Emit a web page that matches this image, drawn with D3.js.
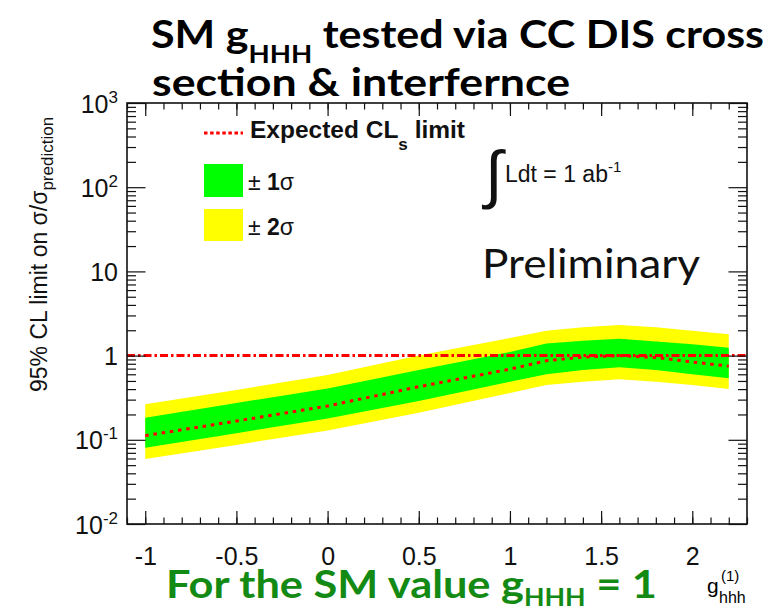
<!DOCTYPE html>
<html>
<head>
<meta charset="utf-8">
<script src="https://cdn.jsdelivr.net/npm/d3@7"></script>
<style>
body { margin: 0; background: #fff; }
svg { display: block; font-family: "Liberation Sans", Arial, sans-serif; }
.axis path.domain { display: none; }
.axis line { stroke: #111; stroke-width: 1.2; }
.axis text { font-size: 25px; fill: #111; font-family: "Liberation Sans", Arial, sans-serif; }
</style>
</head>
<body>
<div id="canvas"></div>
<script>
let gValues = [-1, -0.5, 0, 0.5, 1.0, 1.2, 1.4, 1.6, 1.8, 2.0, 2.2]
// expected limit (median) and the 1 / 2 sigma bands
let expected = [0.112, 0.167, 0.252, 0.427, 0.69, 0.87, 0.96, 1.0, 0.95, 0.84, 0.75]
let up1 = [0.183, 0.274, 0.406, 0.675, 1.10, 1.39, 1.50, 1.59, 1.47, 1.36, 1.24]
let lo1 = [0.0805, 0.120, 0.179, 0.289, 0.49, 0.60, 0.675, 0.726, 0.675, 0.60, 0.537]
let up2 = [0.264, 0.39, 0.589, 1.00, 1.62, 1.97, 2.17, 2.31, 2.17, 1.97, 1.79]
let lo2 = [0.059, 0.087, 0.129, 0.21, 0.36, 0.448, 0.49, 0.523, 0.49, 0.448, 0.40]
let smLine = 1

let xTickValues = [-1, -0.5, 0, 0.5, 1, 1.5, 2]
let yTickValues = [0.01, 0.1, 1, 10, 100, 1000]
let yTickBase = ['10', '10', '1', '10', '10', '10']
let yTickExp = ['-2', '-1', '', '', '2', '3']

let rows = gValues.map((g, i) => ({g: g, med: expected[i], u1: up1[i], l1: lo1[i], u2: up2[i], l2: lo2[i]}))

let svg = d3.select('#canvas').append('svg')
    .attr('width', 783)
    .attr('height', 608)

svg.append('rect').attr('width', 783).attr('height', 608).style('fill', '#fff')

let frameL = 127, frameR = 747, frameT = 103, frameB = 524

let xScale = d3.scaleLinear()
    .domain([-1.1, 2.3])
    .range([frameL, frameR])
let yScale = d3.scaleLog()
    .domain([0.01, 1000])
    .range([frameB, frameT])

// bands
let band = (lo, hi) => d3.area()
    .x(d => xScale(d.g))
    .y0(d => yScale(d[lo]))
    .y1(d => yScale(d[hi]))

svg.append('path').datum(rows)
    .attr('d', band('l2', 'u2'))
    .style('fill', '#ffff00')
svg.append('path').datum(rows)
    .attr('d', band('l1', 'u1'))
    .style('fill', '#00ff00')

// expected limit, dotted
svg.append('path').datum(rows)
    .attr('d', d3.line().x(d => xScale(d.g)).y(d => yScale(d.med)))
    .style('fill', 'none')
    .style('stroke', '#ff0000')
    .style('stroke-width', 3)
    .style('stroke-dasharray', '3.5,4.8')

// SM = 1 line, dash-dot
svg.append('line')
    .attr('x1', xScale(-1.1)).attr('x2', xScale(2.3))
    .attr('y1', yScale(smLine)).attr('y2', yScale(smLine))
    .style('stroke', '#ff0000')
    .style('stroke-width', 3)
    .style('stroke-dasharray', '8,3,2.5,3')

// minor tick positions
let xMinor = d3.range(-11, 24).map(i => i / 10)
let yMinor = []
for (let e = -2; e < 3; e++) {
    for (let m = 2; m < 10; m++) yMinor.push(m * Math.pow(10, e))
}

// x axes
svg.append('g').attr('class', 'axis')
    .attr('transform', `translate(0, ${frameB})`)
    .call(d3.axisBottom(xScale).tickValues(xTickValues).tickSize(-13).tickPadding(23)
        .tickFormat(d => String(d)))
svg.append('g').attr('class', 'axis')
    .attr('transform', `translate(0, ${frameB})`)
    .call(d3.axisBottom(xScale).tickValues(xMinor).tickSize(-6.5).tickFormat(''))
svg.append('g').attr('class', 'axis')
    .attr('transform', `translate(0, ${frameT})`)
    .call(d3.axisTop(xScale).tickValues(xTickValues).tickSize(-13).tickFormat(''))
svg.append('g').attr('class', 'axis')
    .attr('transform', `translate(0, ${frameT})`)
    .call(d3.axisTop(xScale).tickValues(xMinor).tickSize(-6.5).tickFormat(''))

// y axes
let yAxisG = svg.append('g').attr('class', 'axis')
    .attr('transform', `translate(${frameL}, 0)`)
    .call(d3.axisLeft(yScale).tickValues(yTickValues).tickSize(-18.5).tickPadding(9))
yAxisG.selectAll('text').each(function(d, i) {
    let t = d3.select(this).text(null).attr('dy', '0.36em')
    t.append('tspan').text(yTickBase[i])
    if (yTickExp[i]) t.append('tspan').attr('dy', -10).style('font-size', '17px').text(yTickExp[i])
})
svg.append('g').attr('class', 'axis')
    .attr('transform', `translate(${frameL}, 0)`)
    .call(d3.axisLeft(yScale).tickValues(yMinor).tickSize(-9).tickFormat(''))
svg.append('g').attr('class', 'axis')
    .attr('transform', `translate(${frameR}, 0)`)
    .call(d3.axisRight(yScale).tickValues(yTickValues).tickSize(-18.5).tickFormat(''))
svg.append('g').attr('class', 'axis')
    .attr('transform', `translate(${frameR}, 0)`)
    .call(d3.axisRight(yScale).tickValues(yMinor).tickSize(-9).tickFormat(''))

// frame
svg.append('rect')
    .attr('x', frameL).attr('y', frameT)
    .attr('width', frameR - frameL).attr('height', frameB - frameT)
    .style('fill', 'none').style('stroke', '#111').style('stroke-width', 1.6)

// y title
let yTitle = svg.append('text')
    .attr('transform', 'translate(47, 392) rotate(-90)')
    .style('font-size', '23px').style('fill', '#111')
yTitle.append('tspan').text('95% CL limit on σ/σ')
yTitle.append('tspan').attr('dy', 6).style('font-size', '17px').text('prediction')

// x title
svg.append('text').attr('x', 707).attr('y', 593).style('font-size', '21px').text('g')
svg.append('text').attr('x', 721).attr('y', 581).style('font-size', '15px').text('(1)')
svg.append('text').attr('x', 719).attr('y', 603).style('font-size', '16px').text('hhh')

// legend
svg.append('line')
    .attr('x1', 204).attr('x2', 243).attr('y1', 133).attr('y2', 133)
    .style('stroke', '#ff0000').style('stroke-width', 3).style('stroke-dasharray', '3.5,2.6')
let lg1 = svg.append('text').attr('x', 250).attr('y', 138)
    .attr('textLength', 215).attr('lengthAdjust', 'spacingAndGlyphs')
    .style('font-size', '23px').style('font-weight', 'bold').style('fill', '#111')
lg1.append('tspan').text('Expected CL')
lg1.append('tspan').attr('dy', 12).style('font-size', '16px').text('s')
lg1.append('tspan').attr('dy', -12).text(' limit')

svg.append('rect').attr('x', 204).attr('y', 164).attr('width', 39).attr('height', 33).style('fill', '#00ff00')
svg.append('rect').attr('x', 204).attr('y', 209).attr('width', 39).attr('height', 32).style('fill', '#ffff00')
let lg2 = svg.append('text').attr('x', 248).attr('y', 190).style('font-size', '23px').style('fill', '#111')
lg2.append('tspan').text('± ')
lg2.append('tspan').style('font-weight', 'bold').text('1')
lg2.append('tspan').text('σ')
let lg3 = svg.append('text').attr('x', 248).attr('y', 235).style('font-size', '23px').style('fill', '#111')
lg3.append('tspan').text('± ')
lg3.append('tspan').style('font-weight', 'bold').text('2')
lg3.append('tspan').text('σ')

// luminosity
svg.append('text').attr('x', 485).attr('y', 196).style('font-size', '64px').style('fill', '#111').text('∫')
let lumi = svg.append('text').attr('x', 505).attr('y', 182).style('font-size', '23px').style('fill', '#111')
lumi.append('tspan').text('Ldt = 1 ab')
lumi.append('tspan').attr('dy', -10).style('font-size', '15px').text('-1')

// Preliminary
svg.append('text').attr('x', 482).attr('y', 278)
    .attr('textLength', 218).attr('lengthAdjust', 'spacingAndGlyphs')
    .style('font-family', 'Lato').style('font-size', '40px').style('fill', '#111')
    .text('Preliminary')

// headline
let t1 = svg.append('text').attr('x', 151).attr('y', 48)
    .attr('textLength', 613).attr('lengthAdjust', 'spacingAndGlyphs')
    .style('font-family', 'Lato').style('font-weight', 'bold').style('font-size', '39px').style('fill', '#000')
t1.append('tspan').text('SM g')
t1.append('tspan').attr('dy', 15).style('font-size', '25px').text('HHH')
t1.append('tspan').attr('dy', -15).text(' tested via CC DIS cross')
svg.append('text').attr('x', 152).attr('y', 96)
    .attr('textLength', 418).attr('lengthAdjust', 'spacingAndGlyphs')
    .style('font-family', 'Lato').style('font-weight', 'bold').style('font-size', '39px').style('fill', '#000')
    .text('section & interfernce')

let t3 = svg.append('text').attr('x', 166).attr('y', 598)
    .attr('textLength', 491).attr('lengthAdjust', 'spacingAndGlyphs')
    .style('font-family', 'Lato').style('font-weight', 'bold').style('font-size', '39px').style('fill', '#138a13')
t3.append('tspan').text('For the SM value g')
t3.append('tspan').attr('dy', 8).style('font-size', '24px').text('HHH')
t3.append('tspan').attr('dy', -8).text(' = 1')
</script>
</body>
</html>
